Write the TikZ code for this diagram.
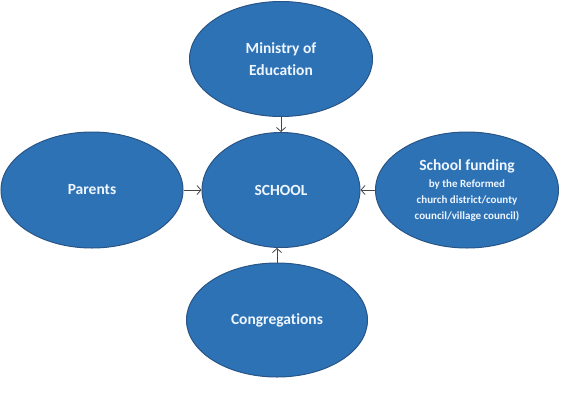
\documentclass[tikz,border=0pt]{standalone}
\usepackage{fontspec}
\setmainfont[Ligatures=NoCommon]{Carlito}
\usetikzlibrary{shapes.geometric,arrows.meta}
\definecolor{ellfill}{RGB}{46,114,182}
\definecolor{elldraw}{RGB}{40,84,134}
\definecolor{arrcol}{RGB}{70,70,70}
\definecolor{txtcol}{RGB}{238,246,255}
\begin{document}
\begin{tikzpicture}[x=1pt,y=-1pt,
  blob/.style={ellipse,fill=ellfill,draw=elldraw,line width=1pt,inner sep=0pt,
    text=txtcol,font=\bfseries\fontsize{15.5}{22}\selectfont,align=center},
  conn/.style={-{Straight Barb[length=4pt,width=9pt]},draw=arrcol,line width=0.8pt}]
\useasboundingbox (0,0) rectangle (567,402);
\node[blob,minimum width=183pt,minimum height=115pt] (min) at (281,59) {Ministry of\\Education};
\node[blob,minimum width=158pt,minimum height=115pt] (sch) at (281,190) {SCHOOL};
\node[blob,minimum width=182pt,minimum height=116pt] (par) at (92,190) {Parents};
\node[blob,minimum width=183pt,minimum height=116pt] (fun) at (467,190) {};
\node[align=center,text=txtcol,font=\bfseries\fontsize{15.5}{22}\selectfont] (funt) at (467,166) {School funding};
\node[align=center,text=txtcol,font=\bfseries\fontsize{11}{16}\selectfont] (funs) at (467,201) {by the Reformed\\church district/county\\council/village council)};
\node[blob,minimum width=181pt,minimum height=114pt] (con) at (277,320) {Congregations};
\draw[conn] (min) -- (sch);
\draw[conn] (par) -- (sch);
\draw[conn] (fun) -- (sch);
\draw[conn] (con.north) -- (con.north |- sch.south);
\end{tikzpicture}
\end{document}
